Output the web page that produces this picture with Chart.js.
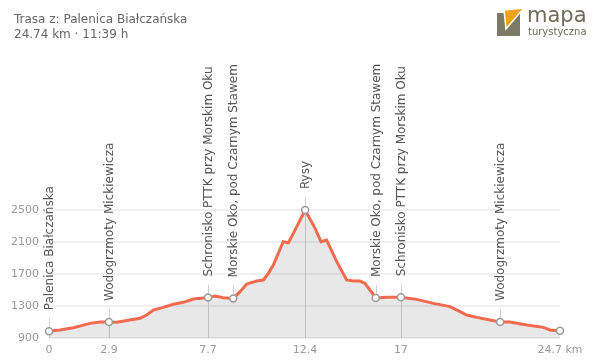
<!DOCTYPE html>
<html>
<head>
<meta charset="utf-8">
<script src="https://cdn.jsdelivr.net/npm/chart.js@4.4.7/dist/chart.umd.min.js"></script>
<style>
  body { margin: 0; background: #fff; }
  #wrap { position: relative; width: 600px; height: 362px; }
  #head { position: absolute; left: 14px; top: 12px; font-family: 'DejaVu Sans', sans-serif; font-size: 12px; line-height: 15px; color: #666; }
  #logo { position: absolute; left: 0; top: 0; }
  #logo svg { position: absolute; left: 496px; top: 7px; }
  #logo span { position: absolute; font-family: 'DejaVu Sans', sans-serif; color: #6f6d5c; line-height: 1; white-space: nowrap; }
  #logo .big { left: 527px; top: 5px; font-size: 21px; }
  #logo .small { left: 528px; top: 27px; font-size: 10px; }
</style>
</head>
<body>
<div id="wrap">
  <canvas id="chart" width="600" height="362"></canvas>
  <div id="head">
    <div>Trasa z: Palenica Białczańska</div>
    <div>24.74 km · 11:39 h</div>
  </div>
  <div id="logo">
    <svg width="30" height="32" viewBox="0 0 30 32">
      <rect x="1" y="6" width="23" height="23" fill="#7b7a66"/>
      <polygon points="8,3 28,1 10,22" fill="#f5a01a" stroke="#fff" stroke-width="1.5"/>
    </svg>
    <span class="big">mapa</span>
    <span class="small">turystyczna</span>
  </div>
</div>
<script>
var distKm = [0, 0.53, 1.18, 1.99, 2.47, 2.9, 3.28, 3.92, 4.41, 4.73, 5.05, 5.53, 6.02, 6.5, 6.99, 7.7,
  8.04, 8.44, 8.92, 9.25, 9.57, 10.06, 10.38, 10.62, 10.86, 11.34, 11.59, 11.83, 12.4,
  12.88, 13.17, 13.44, 13.93, 14.41, 14.73, 15.06, 15.3, 15.54, 15.82, 16.35, 17.04,
  17.8, 18.61, 19.41, 19.9, 20.22, 20.71, 21.35, 21.84, 22.32, 23.13, 23.93, 24.26, 24.74];
var elevM = [985, 1000, 1029, 1083, 1100, 1100, 1096, 1125, 1146, 1187, 1250, 1283, 1321, 1346, 1387, 1405,
  1425, 1404, 1395, 1479, 1575, 1612, 1625, 1708, 1812, 2104, 2091, 2208, 2499,
  2271, 2104, 2125, 1854, 1625, 1612, 1612, 1583, 1500, 1400, 1408, 1410,
  1383, 1333, 1292, 1229, 1187, 1158, 1125, 1100, 1100, 1062, 1033, 1000, 990];

var wpNames = ['Palenica Białczańska', 'Wodogrzmoty Mickiewicza', 'Schronisko PTTK przy Morskim Oku',
  'Morskie Oko, pod Czarnym Stawem', 'Rysy', 'Morskie Oko, pod Czarnym Stawem',
  'Schronisko PTTK przy Morskim Oku', 'Wodogrzmoty Mickiewicza', ''];
var wpKm = [0, 2.9, 7.7, 8.92, 12.4, 15.82, 17.04, 21.84, 24.74];
var wpElev = [985, 1100, 1405, 1395, 2499, 1400, 1410, 1100, 990];

var xTickKm = [0, 2.9, 7.7, 12.4, 17.04, 24.74];
var xTickLabels = ['0', '2.9', '7.7', '12.4', '17', '24.7 km'];
var yTicks = [900, 1300, 1700, 2100, 2500];

Chart.defaults.font.family = "'DejaVu Sans', sans-serif";

var waypointLabels = {
  id: 'waypointLabels',
  beforeDatasetsDraw: function (chart) {
    var ctx = chart.ctx;
    var xs = chart.scales.x;
    var ys = chart.scales.y;
    ctx.save();
    ctx.strokeStyle = '#d2d2d2';
    ctx.lineWidth = 1;
    wpNames.forEach(function (name, i) {
      if (!name) return;
      var px = Math.round(xs.getPixelForValue(wpKm[i])) + 0.5;
      var py = ys.getPixelForValue(wpElev[i]);
      var bottom = xTickKm.indexOf(wpKm[i]) >= 0 ? chart.chartArea.bottom : py;
      ctx.beginPath();
      ctx.moveTo(px, py - 13);
      ctx.lineTo(px, bottom);
      ctx.stroke();
    });
    ctx.restore();
  },
  afterDatasetsDraw: function (chart) {
    var ctx = chart.ctx;
    var xs = chart.scales.x;
    var ys = chart.scales.y;
    ctx.save();
    ctx.fillStyle = '#555';
    ctx.font = "12px 'DejaVu Sans', sans-serif";
    ctx.textAlign = 'left';
    ctx.textBaseline = 'middle';
    wpNames.forEach(function (name, i) {
      if (!name) return;
      var px = xs.getPixelForValue(wpKm[i]);
      var py = ys.getPixelForValue(wpElev[i]);
      ctx.save();
      ctx.translate(px + 1, py - 21);
      ctx.rotate(-Math.PI / 2);
      ctx.fillText(name, 0, 0);
      ctx.restore();
    });
    ctx.restore();
  }
};

var ctx = document.getElementById('chart').getContext('2d');
new Chart(ctx, {
  type: 'line',
  data: {
    datasets: [
      {
        data: distKm.map(function (d, i) { return { x: d, y: elevM[i] }; }),
        borderColor: '#f36b4f',
        borderWidth: 3,
        backgroundColor: 'rgba(0,0,0,0.09)',
        fill: 'start',
        tension: 0,
        pointRadius: 0,
        clip: false,
        order: 1
      },
      {
        data: wpKm.map(function (d, i) { return { x: d, y: wpElev[i] }; }),
        showLine: false,
        pointRadius: 3.5,
        pointBorderWidth: 1.5,
        pointBorderColor: '#9a9a9a',
        pointBackgroundColor: '#fff',
        clip: false,
        order: 0
      }
    ]
  },
  options: {
    responsive: false,
    animation: false,
    layout: { padding: { left: 8, right: 40, top: 210, bottom: 4 } },
    plugins: {
      legend: { display: false },
      tooltip: { enabled: false }
    },
    scales: {
      x: {
        type: 'linear',
        min: 0,
        max: 24.74,
        grid: { display: false, drawTicks: false },
        border: { display: false },
        afterBuildTicks: function (scale) {
          scale.ticks = xTickKm.map(function (v) { return { value: v }; });
        },
        afterFit: function (scale) { scale.height = 20; },
        ticks: {
          autoSkip: false,
          maxRotation: 0,
          color: '#9a9a9a',
          font: { size: 11 },
          padding: 6,
          callback: function (value, index) { return xTickLabels[index]; }
        }
      },
      y: {
        min: 900,
        max: 2500,
        afterBuildTicks: function (scale) {
          scale.ticks = yTicks.map(function (v) { return { value: v }; });
        },
        afterFit: function (scale) { scale.width = 41; },
        grid: { color: '#f0f0f0', lineWidth: 2, drawTicks: false },
        border: { display: false },
        ticks: {
          color: '#9a9a9a',
          font: { size: 11 },
          padding: 10,
          callback: function (value) { return String(value); }
        }
      }
    }
  },
  plugins: [waypointLabels]
});
</script>
</body>
</html>
